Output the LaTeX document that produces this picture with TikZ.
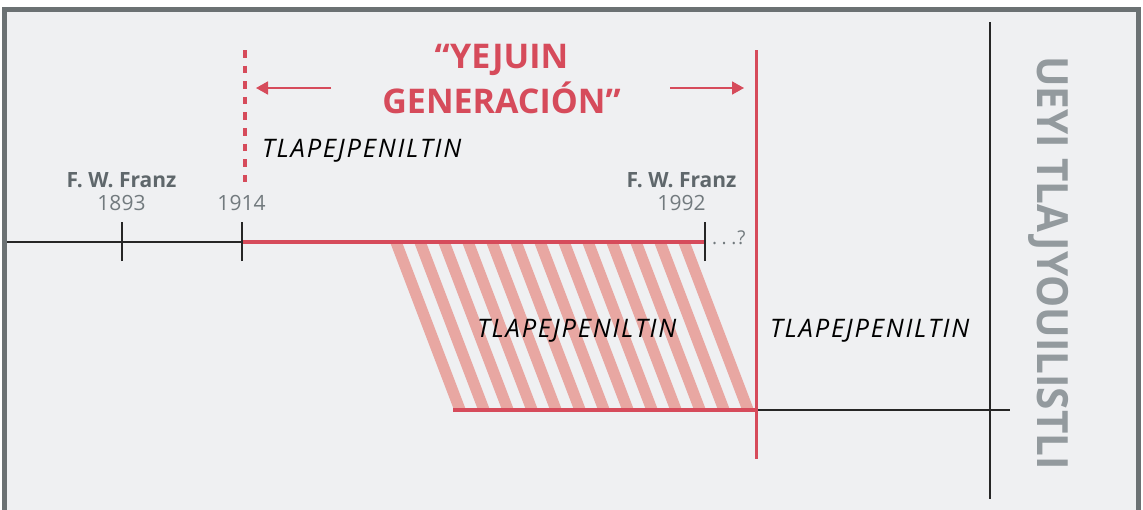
\documentclass[tikz,border=0pt]{standalone}
\usepackage{fontspec}
\setmainfont{Open Sans}
\usetikzlibrary{arrows.meta}
\definecolor{bg}{HTML}{EFF0F2}
\definecolor{frame}{HTML}{6B7173}
\definecolor{accent}{HTML}{D64B5B}
\definecolor{stripe}{HTML}{E8A7A2}
\definecolor{label}{HTML}{5F676B}
\definecolor{year}{HTML}{727A7E}
\definecolor{vert}{HTML}{939A9E}
\tikzset{
  axis/.style={line width=2pt, draw=black!85},
  tick/.style={line width=2pt, draw=black!85},
  redline/.style={line width=3.5pt, draw=accent},
  redarrow/.style={line width=1.8pt, draw=accent, -{Triangle[length=12pt,width=13pt]}},
  title/.style={text=accent, font=\fontsize{34}{40}\selectfont\bfseries, anchor=base, inner sep=0pt},
  itl/.style={font=\fontsize{25.5}{30}\selectfont\itshape\addfontfeatures{LetterSpace=7}, text=black, anchor=base west, inner sep=0pt},
  who/.style={font=\fontsize{21}{24}\selectfont\bfseries, text=label, anchor=base, inner sep=0pt},
  yr/.style={font=\fontsize{21}{24}\selectfont, text=year, anchor=base, inner sep=0pt},
}
\begin{document}
\begin{tikzpicture}[x=1pt,y=-1pt]
\useasboundingbox (0,0) rectangle (1143,509);
\fill[white] (0,0) rectangle (1143,509);
\draw[line width=5pt, draw=frame, fill=bg] (4.5,9.5) rectangle (1138.5,540);

% hatched band
\foreach \k in {0,...,12}{
  \fill[stripe] ({390+24*\k},242) -- ({402+24*\k},242) -- ({466+24*\k},410) -- ({454+24*\k},410) -- cycle;
}

% coordinates
\coordinate (a0) at (7,242);
\coordinate (t1893) at (122,242);
\coordinate (t1914) at (242,242);
\coordinate (t1992) at (705,242);
\coordinate (b0) at (453,410);
\coordinate (b1) at (756,410);
\coordinate (b2) at (1010,410);
\coordinate (rv0) at (756,50);
\coordinate (rv1) at (756,459);
\coordinate (kv0) at (990,22);
\coordinate (kv1) at (990,499);
\coordinate (d0) at (245,50);
\coordinate (d1) at (245,183);
\coordinate (la0) at (331,88);
\coordinate (la1) at (256,88);
\coordinate (ra0) at (670,88);
\coordinate (ra1) at (744,88);

% timeline
\draw[axis] (a0) -- (t1914);
\draw[redline] (t1914) -- (t1992);
\draw[tick] ([yshift=-19pt]t1893) -- ([yshift=20pt]t1893);
\draw[tick] ([yshift=-19pt]t1914) -- ([yshift=20pt]t1914);
\draw[tick] ([yshift=-19pt]t1992) -- ([yshift=20pt]t1992);

% lower line
\draw[redline] (b0) -- (b1);
\draw[axis] (b1) -- (b2);

% verticals
\draw[redline, line width=3pt] (rv0) -- (rv1);
\draw[axis] (kv0) -- (kv1);
\draw[accent, line width=4pt, dash pattern=on 7.5pt off 8.1pt] (d0) -- (d1);

% arrows
\draw[redarrow] (la0) -- (la1);
\draw[redarrow] (ra0) -- (ra1);

% title
\node[title] (t1) at (501.5,68) {“YEJUIN};
\node[title] (t2) at (501.5,113) {GENERACIÓN”};

% labels
\node[itl] (l1) at (262,157) {TLAPEJPENILTIN};
\node[itl] (l2) at (477,337) {TLAPEJPENILTIN};
\node[itl] (l3) at (770,337) {TLAPEJPENILTIN};

\node[who] (w1) at (121.5,187) {F. W. Franz};
\node[yr] (y1) at (121.5,210) {1893};
\node[yr] (y2) at (241.5,210) {1914};
\node[who] (w2) at (681.5,187) {F. W. Franz};
\node[yr] (y3) at (681.5,210) {1992};
\node[font=\fontsize{19}{22}\selectfont, text=year, anchor=base west, inner sep=0pt] (q) at (712,244) {.\hspace{4.5pt}.\hspace{4.5pt}.\hspace{1pt}?};

\node[font=\fontsize{43}{50}\selectfont\bfseries, text=vert, rotate=-90, xscale=0.94, inner sep=0pt] (v) at (1049,263) {UEYI TLAJYOUILISTLI};
\end{tikzpicture}
\end{document}
